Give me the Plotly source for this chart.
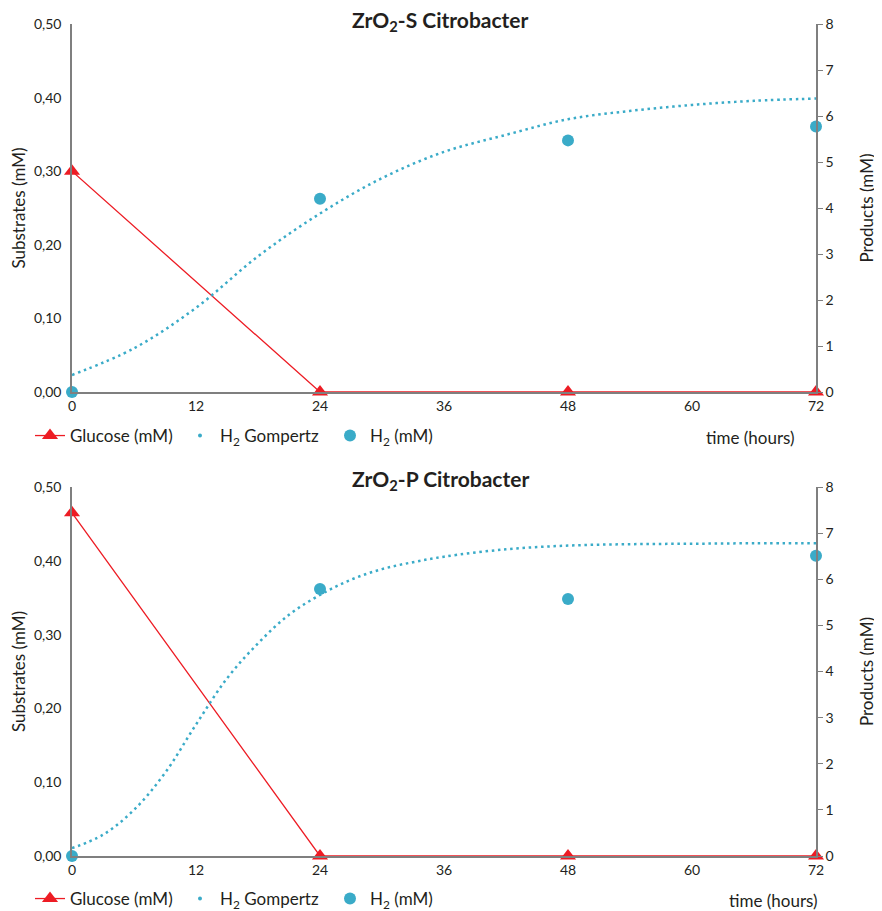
import plotly.graph_objects as go

# ---------------- data ----------------
time_pts = [0, 24, 48, 72]

glucose_S = [0.30, 0.00, 0.00, 0.00]
h2_S = [0.00, 4.20, 5.47, 5.77]
gomp_t_S = [0, 6, 12, 18, 24, 30, 36, 42, 48, 54, 60, 66, 72]
gomp_S = [0.37, 0.95, 1.83, 2.95, 3.88, 4.65, 5.22, 5.59, 5.93, 6.11, 6.24, 6.33, 6.38]

glucose_P = [0.465, 0.00, 0.00, 0.00]
h2_P = [0.00, 5.79, 5.57, 6.51]
gomp_t_P = [0, 3, 6, 9, 12, 15, 18, 21, 24, 27, 30, 33, 36, 42, 48, 54, 60, 66, 72]
gomp_P = [0.17, 0.46, 1.00, 1.80, 2.85, 3.85, 4.61, 5.23, 5.66, 5.99, 6.22, 6.37, 6.49,
          6.65, 6.73, 6.76, 6.77, 6.78, 6.78]

x_ticks = [0, 12, 24, 36, 48, 60, 72]
sub_ticks = [0, 0.1, 0.2, 0.3, 0.4, 0.5]
sub_tick_text = ["0,00", "0,10", "0,20", "0,30", "0,40", "0,50"]
prod_ticks = [0, 1, 2, 3, 4, 5, 6, 7, 8]

titles = ["ZrO<sub>2</sub>-S Citrobacter", "ZrO<sub>2</sub>-P Citrobacter"]

# ---------------- style ----------------
RED = "#ED1C24"
BLUE = "#3AABC8"
AXIS = "#7f7f7f"
TXT = "#231f20"
FONT = "Lato"
OFF = 8                      # page body margin
W, H = 882 - OFF, 911 - OFF
ML, MR = 22, 22
GW = W - ML - MR

def py(px):
    return 1 - (px - OFF) / H

def pxx(px):
    return (px - OFF - ML) / GW

fig = go.Figure()

panels = [
    dict(gl=glucose_S, h2=h2_S, gt=gomp_t_S, g=gomp_S, xa="x", ya="y", ya2="y2", leg="legend"),
    dict(gl=glucose_P, h2=h2_P, gt=gomp_t_P, g=gomp_P, xa="x2", ya="y3", ya2="y4", leg="legend2"),
]

for p in panels:
    fig.add_trace(go.Scatter(
        x=time_pts, y=p["gl"], xaxis=p["xa"], yaxis=p["ya"],
        mode="lines+markers", name="Glucose (mM)",
        line=dict(color=RED, width=1.3),
        marker=dict(symbol="triangle-up", size=14, color=RED),
        cliponaxis=False, legend=p["leg"]))
    fig.add_trace(go.Scatter(
        x=p["gt"], y=p["g"], xaxis=p["xa"], yaxis=p["ya2"],
        mode="lines", line=dict(color=BLUE, width=2.5, dash="2.5px,3.7px", shape="spline"),
        showlegend=False, cliponaxis=False))
    fig.add_trace(go.Scatter(
        x=[None], y=[None], xaxis=p["xa"], yaxis=p["ya2"],
        mode="markers", name="H<sub>2</sub> Gompertz",
        marker=dict(size=4, color=BLUE), legend=p["leg"]))
    fig.add_trace(go.Scatter(
        x=time_pts, y=p["h2"], xaxis=p["xa"], yaxis=p["ya2"],
        mode="markers", name="H<sub>2</sub> (mM)",
        marker=dict(size=12, color=BLUE),
        cliponaxis=False, legend=p["leg"]))

doms = [[py(392), py(24)], [py(856), py(487)]]
xdom = [pxx(72), pxx(816)]

xcommon = dict(range=[0, 72], tickvals=x_ticks, showline=True, linecolor=AXIS, linewidth=1.5,
               showgrid=False, zeroline=False, ticks="", automargin=False,
               tickfont=dict(size=14, color=TXT, family=FONT))
ycommon = dict(range=[0, 0.5], tickvals=sub_ticks, ticktext=sub_tick_text, showline=True,
               linecolor=AXIS, linewidth=1.5, showgrid=False, zeroline=False, ticks="",
               ticklabelstandoff=6, automargin=False,
               tickfont=dict(size=14, color=TXT, family=FONT),
               title=dict(text="Substrates (mM)", font=dict(size=17, color=TXT, family=FONT), standoff=6))
y2common = dict(range=[0, 8], tickvals=prod_ticks, showline=True, linecolor=AXIS, linewidth=1.5,
                showgrid=False, zeroline=False, ticks="outside", ticklen=5, tickcolor=AXIS,
                automargin=False,
                tickfont=dict(size=14, color=TXT, family=FONT), side="right",
                title=dict(text="Products (mM)", font=dict(size=17, color=TXT, family=FONT), standoff=28))

legcommon = dict(orientation="h", xanchor="left", yanchor="middle", x=0,
                 font=dict(size=17, color=TXT, family=FONT), bgcolor="rgba(0,0,0,0)",
                 entrywidth=105, itemwidth=30, tracegroupgap=0)

def ann(text, x, y, size):
    return dict(text=text, x=pxx(x), y=py(y), xref="paper", yref="paper",
                xanchor="center", yanchor="middle", showarrow=False,
                font=dict(size=size, color=TXT, family=FONT))

fig.update_layout(
    width=W, height=H, plot_bgcolor="white", paper_bgcolor="white",
    margin=dict(l=ML, r=MR, t=0, b=0, autoexpand=False),
    xaxis=dict(domain=xdom, anchor="y", **xcommon),
    yaxis=dict(domain=doms[0], anchor="x", **ycommon),
    yaxis2=dict(overlaying="y", anchor="x", **y2common),
    xaxis2=dict(domain=xdom, anchor="y3", **xcommon),
    yaxis3=dict(domain=doms[1], anchor="x2", **ycommon),
    yaxis4=dict(overlaying="y3", anchor="x2", **y2common),
    legend=dict(y=py(436), **legcommon),
    legend2=dict(y=py(899), **legcommon),
    annotations=[
        ann("<b>" + titles[0] + "</b>", 440, 21, 21),
        ann("<b>" + titles[1] + "</b>", 440, 480, 21),
        ann("time (hours)", 750, 437, 17),
        ann("time (hours)", 773, 900, 17),
    ],
)

fig.write_html("out.html")
